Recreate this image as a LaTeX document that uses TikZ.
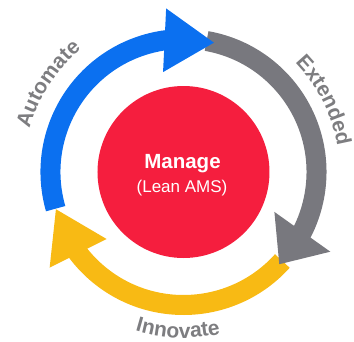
\documentclass[tikz,border=0pt]{standalone}
\usepackage{fontspec}
\setmainfont{Liberation Sans}
\usetikzlibrary{arrows.meta,bending,decorations.text}
\definecolor{amsblue}{RGB}{11,112,240}
\definecolor{amsgray}{RGB}{120,120,126}
\definecolor{amsyellow}{RGB}{248,186,20}
\definecolor{amsred}{RGB}{245,30,62}
\definecolor{labelgray}{RGB}{125,125,128}
\newcommand{\ringfont}{\fontsize{21}{21}\selectfont\bfseries}

\begin{document}
\begin{tikzpicture}[x=1pt,y=1pt,
  ring/.style={line width=20pt,-{Triangle[length=50pt,width=60pt,flex]}},
  ringlabel/.style={decorate,decoration={text along path,text align=center,
    text color=labelgray,text={|\ringfont|#1}}}]
\useasboundingbox (-183.5,-169) rectangle (170.5,172);
\coordinate (c) at (0,0);
\coordinate (yA) at (-42:133);
\coordinate (gA) at (80:133);
\coordinate (bA) at (196:133);
\node[circle,fill=amsred,minimum size=172pt,inner sep=0pt] (hub) at (c) {};
\node[white,font=\fontsize{20.5}{20.5}\selectfont\bfseries,anchor=base] (manage) at (-1,4) {Manage};
\node[white,font=\fontsize{17}{17}\selectfont,anchor=base] (lean) at (-1.5,-20) {(Lean AMS)};
\draw[ring,amsyellow] (yA) arc[start angle=-42,end angle=-164,radius=133];
\draw[ring,amsgray,-{Triangle[length=40pt,width=66pt,flex]}] (gA) arc[start angle=80,end angle=-44,radius=133];
\draw[ring,amsblue] (bA) arc[start angle=196,end angle=76.5,radius=133];
\path[ringlabel=Automate] (182:160) arc[start angle=182,end angle=112,radius=160];
\path[ringlabel=Extended] (62:156) arc[start angle=62,end angle=-8,radius=156];
\path[ringlabel=Innovate] (233:166) arc[start angle=233,end angle=303,radius=166];
\end{tikzpicture}
\end{document}
